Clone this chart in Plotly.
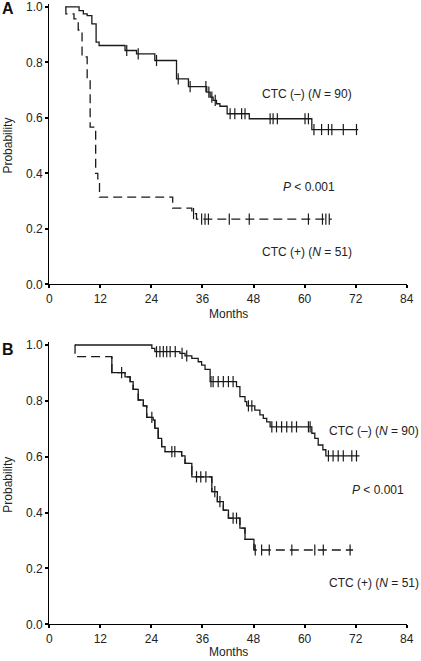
import numpy as np
import plotly.graph_objects as go

# ---------------- data ----------------
# Panel A
a_neg_time = [3.8, 7.0, 8.0, 8.9, 10.0, 11.0, 11.7, 17.8, 20.5, 24.8, 29.9, 32.7,
              37.0, 37.8, 38.5, 39.3, 40.1, 41.8, 47.0, 61.7, 72.6]
a_neg_surv = [1.0, 0.987, 0.975, 0.969, 0.939, 0.873, 0.861, 0.843, 0.831, 0.807, 0.741, 0.713,
              0.693, 0.675, 0.663, 0.651, 0.642, 0.615, 0.597, 0.558, 0.558]
a_neg_cens = [18.2, 20.9, 25.2, 30.3, 33.1, 36.8, 37.5, 38.2, 39.0, 42.5, 43.6, 45.2, 46.0,
              51.9, 52.6, 53.6, 60.1, 60.9, 62.2, 64.0, 65.6, 66.4, 69.1, 72.2]

a_pos_time = [3.8, 3.9, 5.8, 6.8, 7.7, 8.9, 9.6, 10.9, 11.4, 11.8, 29.0, 33.5, 34.6, 66.4]
a_pos_surv = [1.0, 0.975, 0.957, 0.917, 0.82, 0.741, 0.567, 0.40, 0.38, 0.314, 0.275, 0.255, 0.235, 0.235]
a_pos_cens = [33.9, 35.8, 36.6, 37.4, 42.3, 47.0, 60.9, 64.2, 65.0, 65.8]

# Panel B
b_neg_time = [6.0, 24.1, 24.8, 30.7, 31.9, 33.5, 35.0, 35.8, 36.6, 37.8, 44.0, 44.8, 46.0, 46.4,
              48.3, 49.5, 50.3, 51.1, 51.9, 61.7, 62.4, 63.2, 64.3, 65.0, 72.9]
b_neg_surv = [1.0, 0.988, 0.976, 0.970, 0.961, 0.952, 0.940, 0.928, 0.913, 0.869, 0.851, 0.815, 0.797, 0.782,
              0.767, 0.750, 0.737, 0.725, 0.707, 0.684, 0.666, 0.642, 0.625, 0.603, 0.603]
b_neg_cens = [25.2, 26.0, 26.8, 27.6, 28.4, 29.6, 31.2, 32.3, 38.0, 38.5, 39.7, 40.9, 42.1, 43.2,
              46.8, 47.6, 52.3, 53.4, 54.6, 55.8, 57.0, 58.1, 60.9, 61.3,
              65.6, 66.7, 67.9, 69.1, 71.1, 72.2]

b_pos_time = [6.0, 6.05, 14.7, 17.8, 19.0, 19.7, 20.9, 22.1, 22.9, 24.4, 24.8, 25.6, 26.4, 27.2,
              31.1, 31.9, 33.5, 38.2, 39.5, 40.9, 42.1, 44.8, 46.0, 48.1, 71.4]
b_pos_surv = [1.0, 0.958, 0.901, 0.886, 0.869, 0.841, 0.803, 0.782, 0.741, 0.731, 0.702, 0.666, 0.636, 0.618,
              0.603, 0.576, 0.528, 0.475, 0.439, 0.409, 0.380, 0.344, 0.304, 0.266, 0.266]
b_pos_cens = [17.0, 24.1, 28.8, 29.5, 34.6, 35.6, 36.8, 38.9, 40.1, 43.2, 44.0,
              48.4, 49.9, 51.7, 57.0, 62.4, 64.4, 70.7]

x_ticks = [0, 12, 24, 36, 48, 60, 72, 84]
y_ticks = [0.0, 0.2, 0.4, 0.6, 0.8, 1.0]
y_ticktext = ["0.0", "0.2", "0.4", "0.6", "0.8", "1.0"]

# ---------------- figure ----------------
LINE = "#1a1a1a"
FONT = "Arial, Liberation Sans, Helvetica, sans-serif"


def step_at(times, surv, t):
    idx = np.searchsorted(np.asarray(times), np.asarray(t), side="right") - 1
    return np.asarray(surv)[idx]


fig = go.Figure()


def add_curve(xa, ya, t, s, dash):
    fig.add_trace(go.Scatter(x=t, y=s, mode="lines",
                             line=dict(shape="hv", color=LINE, width=1.3, dash=dash),
                             xaxis=xa, yaxis=ya, hoverinfo="skip", showlegend=False))


def add_cens(xa, ya, t, s, c):
    fig.add_trace(go.Scatter(x=c, y=step_at(t, s, c), mode="markers",
                             marker=dict(symbol="line-ns", size=8,
                                         line=dict(width=1.2, color=LINE)),
                             xaxis=xa, yaxis=ya, hoverinfo="skip", showlegend=False,
                             cliponaxis=False))


DASH = "9px,5px"
# Panel A
add_curve("x", "y", a_neg_time, a_neg_surv, "solid")
add_cens("x", "y", a_neg_time, a_neg_surv, a_neg_cens)
add_curve("x", "y", a_pos_time, a_pos_surv, DASH)
add_cens("x", "y", a_pos_time, a_pos_surv, a_pos_cens)

# Panel B
add_curve("x2", "y2", b_neg_time, b_neg_surv, "solid")
add_cens("x2", "y2", b_neg_time, b_neg_surv, b_neg_cens)
add_curve("x2", "y2", b_pos_time, b_pos_surv, DASH)
# the dense middle part of the CTC(+) curve appears solid
k_end = b_pos_time.index(48.1)
mid_x = [b_pos_time[2]] + b_pos_time[2:k_end + 1]
mid_y = [b_pos_surv[1]] + b_pos_surv[2:k_end + 1]
add_curve("x2", "y2", mid_x, mid_y, "solid")
add_cens("x2", "y2", b_pos_time, b_pos_surv, b_pos_cens)

W, H = 421, 661
xdom = [49.3 / W, 406.7 / W]


def xaxis_cfg(anchor):
    return dict(domain=xdom, range=[0, 84], tickvals=x_ticks, anchor=anchor,
                showline=True, linecolor="black", linewidth=1.2,
                ticks="outside", ticklen=3, tickwidth=2, tickcolor="black",
                showgrid=False, zeroline=False, automargin=False,
                tickfont=dict(family=FONT, size=12, color="#222"), fixedrange=True)


def yaxis_cfg(anchor, dom):
    return dict(domain=dom, range=[0, 1.01], tickvals=y_ticks, ticktext=y_ticktext, anchor=anchor,
                showline=True, linecolor="black", linewidth=1.2,
                ticks="outside", ticklen=3, tickwidth=2, tickcolor="black",
                showgrid=False, zeroline=False, automargin=False,
                tickfont=dict(family=FONT, size=12, color="#222"), fixedrange=True)


annotations = []
txt = dict(family=FONT, size=12, color="#222")


def ann(x, y, text, xref, yref, **kw):
    d = dict(x=x, y=y, text=text, xref=xref, yref=yref, showarrow=False, font=txt,
             xanchor="center", yanchor="middle")
    d.update(kw)
    annotations.append(d)


# Panel A labels
ann(60.5, 0.685, "CTC (\u2013) (<i>N</i> = 90)", "x", "y")
ann(61.1, 0.351, "<i>P</i> &lt; 0.001", "x", "y")
ann(60.5, 0.117, "CTC (+) (<i>N</i> = 51)", "x", "y")
# Panel B labels
ann(76.4, 0.692, "CTC (\u2013) (<i>N</i> = 90)", "x2", "y2")
ann(77.3, 0.481, "<i>P</i> &lt; 0.001", "x2", "y2")
ann(76.2, 0.147, "CTC (+) (<i>N</i> = 51)", "x2", "y2")

# axis titles and panel letters (paper coordinates)
ann(228 / W, 1 - 313.5 / H, "Months", "paper", "paper")
ann(228 / W, 1 - 652 / H, "Months", "paper", "paper")
ann(8 / W, 1 - 145.6 / H, "Probability", "paper", "paper", textangle=-90)
ann(8 / W, 1 - 484.7 / H, "Probability", "paper", "paper", textangle=-90)
ann(8 / W, 1 - 8.5 / H, "<b>A</b>", "paper", "paper",
    font=dict(family=FONT, size=16, color="#111"))
ann(8 / W, 1 - 350 / H, "<b>B</b>", "paper", "paper",
    font=dict(family=FONT, size=16, color="#111"))

fig.update_layout(
    width=W, height=H,
    margin=dict(l=0, r=0, t=0, b=0),
    paper_bgcolor="white", plot_bgcolor="white",
    showlegend=False,
    xaxis=xaxis_cfg("y"),
    yaxis=yaxis_cfg("x", [1 - 284.3 / H, 1 - 4.2 / H]),
    xaxis2=xaxis_cfg("y2"),
    yaxis2=yaxis_cfg("x2", [1 - 624.3 / H, 1 - 342.2 / H]),
    annotations=annotations,
)

fig.write_html(
    "out.html",
    config={"displayModeBar": False},
    post_script="document.body.style.margin='0';document.body.style.padding='0';"
                "document.body.style.overflow='hidden';",
)
